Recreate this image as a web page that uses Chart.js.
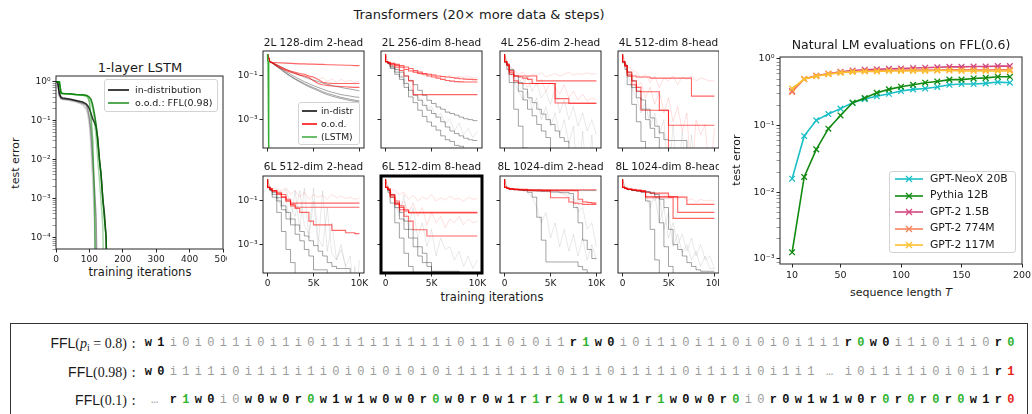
<!DOCTYPE html>
<html>
<head>
<meta charset="utf-8">
<title>FFL flip-flop figure</title>
<script src="https://cdn.jsdelivr.net/npm/chart.js@4.4.1/dist/chart.umd.min.js"></script>
<style>
  html, body { margin: 0; padding: 0; background: #fff; }
  body { width: 1032px; height: 414px; position: relative; overflow: hidden; font-family: "DejaVu Sans", sans-serif; color: #1a1a1a; }
  canvas { position: absolute; }
  .lbl { position: absolute; transform: translate(-50%, -50%); white-space: nowrap; line-height: 1; }
  .vlbl { position: absolute; transform: translate(-50%, -50%) rotate(-90deg); white-space: nowrap; line-height: 1; }
  #leftFig { position: absolute; left: 0; top: 0; width: 719px; height: 318px; overflow: hidden; }
  .legend { position: absolute; background: rgba(255,255,255,0.85); border: 1px solid #d3d3d3; border-radius: 3px; box-sizing: border-box; }
  .legend .row { position: absolute; left: 0; right: 0; display: flex; align-items: center; white-space: nowrap; line-height: 1; }
  .legend svg { flex: none; }
  #seqBox { position: absolute; left: 10px; top: 323px; width: 1018px; height: 120px; border: 1px solid #333; box-sizing: border-box; }
  .seqLabel { position: absolute; left: 0; width: 136px; text-align: right; font-size: 14px; line-height: 16px; white-space: nowrap; }
  .sf { font-family: "Liberation Sans", Arial, sans-serif; }
  .rm { font-family: "Liberation Serif", "DejaVu Serif", serif; }
  .rm sub { font-size: 10px; vertical-align: -3px; line-height: 0; }
  .seq { position: absolute; left: 142px; line-height: 16px; white-space: nowrap; font-family: "Liberation Mono", monospace; font-size: 12px; }
  .cell { display: inline-block; width: 12.5px; text-align: center; }
  .cell.dots { width: 25px; }
  .g { color: #9b9b9b; }
  .b { color: #111; font-weight: bold; }
  .ok { color: #2fb32f; font-weight: bold; }
  .bad { color: #e8241c; font-weight: bold; }
</style>
</head>
<body>
<div id="leftFig">
  <div class="lbl" style="left:479px;top:14px;font-size:13px">Transformers (20× more data &amp; steps)</div>
  <div class="lbl" style="left:140px;top:67px;font-size:13px">1-layer LSTM</div>
  <div class="vlbl" style="left:15px;top:163px;font-size:11px">test error</div>
  <div class="lbl" style="left:140px;top:273px;font-size:11.5px">training iterations</div>
  <div class="lbl" style="left:492px;top:298px;font-size:11.5px">training iterations</div>
</div>
<div class="lbl" style="left:901px;top:45px;font-size:12.5px">Natural LM evaluations on FFL(0.6)</div>
<div class="vlbl" style="left:736px;top:160px;font-size:11px">test error</div>
<div class="lbl" style="left:901px;top:292px;font-size:11px">sequence length <i>T</i></div>
<div id="seqBox"></div>

<script>
// ---------- 1-layer LSTM (iterations 0..500) ----------
const LSTM_ITERS = [0, 5, 10, 15, 20, 40, 60, 80, 90, 95, 100, 105, 110, 115, 120, 125, 130, 135, 140, 145, 150, 155];
const LSTM_IN = [
  [1, 1, 0.5, 0.4, 0.38, 0.36, 0.33, 0.3, 0.27, 0.24, 0.2, 0.15, 0.11, 0.09, 0.07, 0.035, 0.01, 0.004, 0.001, 0.0004, 0.0001, 1e-6],
  [1, 1, 0.45, 0.37, 0.36, 0.35, 0.32, 0.28, 0.25, 0.2, 0.12, 0.05, 0.01, 0.002, 0.0003, 1e-6, 1e-6, 1e-6, 1e-6, 1e-6, 1e-6, 1e-6],
  [1, 1, 0.42, 0.36, 0.35, 0.33, 0.3, 0.26, 0.2, 0.15, 0.08, 0.02, 0.003, 0.0003, 1e-6, 1e-6, 1e-6, 1e-6, 1e-6, 1e-6, 1e-6, 1e-6]
];
const LSTM_OOD = [
  [1, 1, 1, 0.5, 0.5, 0.48, 0.46, 0.45, 0.43, 0.4, 0.3, 0.12, 0.03, 0.001, 1e-6, 1e-6, 1e-6, 1e-6, 1e-6, 1e-6, 1e-6, 1e-6],
  [1, 1, 1, 0.5, 0.5, 0.48, 0.47, 0.45, 0.44, 0.42, 0.38, 0.3, 0.2, 0.1, 0.04, 0.01, 0.003, 0.0008, 0.0002, 1e-6, 1e-6, 1e-6],
  [1, 1, 1, 0.52, 0.5, 0.49, 0.47, 0.46, 0.45, 0.43, 0.4, 0.35, 0.25, 0.15, 0.08, 0.03, 0.01, 0.004, 0.001, 0.0003, 0.0001, 1e-6]
];
const LSTM_IN_COLORS = ["rgba(0,0,0,0.8)", "rgba(0,0,0,0.4)", "rgba(0,0,0,0.2)"];
const LSTM_OOD_COLORS = ["rgba(0,140,0,0.55)", "rgba(0,140,0,0.35)", "rgba(0,110,0,0.85)"];

// ---------- Transformer panels (steps 0..10K) ----------
const TF_STEPS = [0, 250, 500, 1000, 1500, 2000, 2500, 3000, 3500, 4000, 4500, 5000, 5500, 6000, 6500, 7000, 7500, 8000, 8500, 9000, 9500, 10000];

const P1_IN = [
  [1, 0.45, 0.42, 0.33, 0.26, 0.2, 0.16, 0.13, 0.11, 0.09, 0.075, 0.065, 0.056, 0.048, 0.042, 0.037, 0.033, 0.03, 0.027, 0.025, 0.023, 0.021],
  [1, 0.45, 0.4, 0.3, 0.22, 0.16, 0.12, 0.09, 0.07, 0.055, 0.045, 0.036, 0.03, 0.025, 0.021, 0.018, 0.016, 0.014, 0.013, 0.012, 0.011, 0.0105],
  [1, 0.45, 0.39, 0.28, 0.2, 0.14, 0.1, 0.075, 0.058, 0.045, 0.036, 0.029, 0.024, 0.019, 0.016, 0.014, 0.012, 0.0105, 0.0095, 0.0085, 0.0078, 0.0072],
  [1, 0.45, 0.39, 0.27, 0.19, 0.13, 0.095, 0.07, 0.053, 0.041, 0.032, 0.026, 0.021, 0.017, 0.014, 0.012, 0.0105, 0.0093, 0.0083, 0.0075, 0.0069, 0.0064]
];
const P1_OOD = [
  [1, 0.45, 0.43, 0.41, 0.4, 0.39, 0.38, 0.37, 0.36, 0.36, 0.35, 0.35, 0.34, 0.34, 0.33, 0.33, 0.32, 0.32, 0.31, 0.31, 0.3, 0.3],
  [1, 0.45, 0.41, 0.32, 0.25, 0.2, 0.17, 0.15, 0.13, 0.12, 0.1, 0.09, 0.07, 0.052, 0.048, 0.046, 0.045, 0.045, 0.045, 0.045, 0.045, 0.045],
  [1, 0.45, 0.4, 0.29, 0.22, 0.18, 0.15, 0.13, 0.11, 0.1, 0.085, 0.06, 0.045, 0.04, 0.037, 0.035, 0.034, 0.033, 0.032, 0.031, 0.03, 0.03]
];
const P1_PINK = [
  [1, 0.45, 0.41, 0.31, 0.24, 0.2, 0.16, 0.14, 0.12, 0.11, 0.095, 0.08, 0.065, 0.085, 0.055, 0.075, 0.05, 0.07, 0.055, 0.065, 0.05, 0.06]
];
const P1_GRAY = [];

const P2_IN = [
  [1, 0.45, 0.38, 0.28, 0.2, 0.15, 0.1, 0.063, 0.04, 0.022, 0.013, 0.0077, 0.0055, 0.0038, 0.003, 0.0022, 0.0019, 0.0016, 0.0013, 0.0011, 0.001, 0.0009],
  [1, 0.45, 0.37, 0.25, 0.15, 0.09, 0.045, 0.022, 0.013, 0.0077, 0.0045, 0.0027, 0.0019, 0.0013, 0.0008, 0.00046, 0.0003, 0.00023, 0.00018, 0.00014, 0.00012, 0.00011],
  [1, 0.45, 0.36, 0.22, 0.12, 0.07, 0.03, 0.011, 0.006, 0.0027, 0.0014, 0.00078, 0.0005, 0.00033, 0.00018, 0.00012, 0.0001, 0.000066, 0.00006, 1e-6, 1e-6, 1e-6]
];
const P2_OOD = [
  [1, 0.45, 0.42, 0.38, 0.34, 0.3, 0.26, 0.22, 0.18, 0.15, 0.13, 0.12, 0.11, 0.1, 0.095, 0.09, 0.085, 0.08, 0.075, 0.072, 0.07, 0.068],
  [1, 0.45, 0.41, 0.35, 0.3, 0.25, 0.2, 0.17, 0.15, 0.13, 0.12, 0.1, 0.09, 0.08, 0.07, 0.062, 0.058, 0.055, 0.054, 0.053, 0.053, 0.053],
  [1, 0.45, 0.4, 0.32, 0.25, 0.18, 0.1, 0.06, 0.014, 0.014, 0.014, 0.014, 0.014, 0.014, 0.014, 0.014, 0.014, 0.014, 0.014, 0.014, 0.014, 0.014]
];
const P2_PINK = [
  [1, 0.45, 0.42, 0.36, 0.3, 0.25, 0.2, 0.16, 0.13, 0.11, 0.1, 0.12, 0.085, 0.1, 0.08, 0.11, 0.075, 0.095, 0.085, 0.1, 0.08, 0.09]
];
const P2_GRAY = [
  [1, 0.45, 0.37, 0.24, 0.14, 0.08, 0.04, 0.02, 0.01, 0.008, 0.003, 0.004, 0.0012, 0.002, 0.0006, 0.0011, 0.0003, 0.0007, 0.0002, 0.0004, 0.00015, 0.0003]
];

const P3_IN = [
  [1, 0.4, 0.2, 0.05, 0.003, 0.0005, 0.00005, 1e-6, 1e-6, 1e-6, 1e-6, 1e-6, 1e-6, 1e-6, 1e-6, 1e-6, 1e-6, 1e-6, 1e-6, 1e-6, 1e-6, 1e-6],
  [1, 0.45, 0.3, 0.12, 0.05, 0.02, 0.008, 0.003, 0.0015, 0.0006, 0.0003, 0.00015, 1e-6, 1e-6, 1e-6, 1e-6, 1e-6, 1e-6, 1e-6, 1e-6, 1e-6, 1e-6],
  [1, 0.45, 0.32, 0.2, 0.1, 0.05, 0.025, 0.01, 0.006, 0.003, 0.0018, 0.001, 0.0006, 0.0003, 0.00015, 0.0001, 1e-6, 1e-6, 1e-6, 1e-6, 1e-6, 1e-6]
];
const P3_OOD = [
  [1, 0.45, 0.35, 0.18, 0.1, 0.1, 0.1, 0.1, 0.1, 0.06, 0.06, 0.06, 0.06, 0.06, 0.06, 0.06, 0.06, 0.06, 0.06, 0.06, 0.06, 0.06],
  [1, 0.45, 0.33, 0.15, 0.1, 0.09, 0.08, 0.07, 0.045, 0.045, 0.045, 0.045, 0.045, 0.0092, 0.0092, 0.0092, 0.0055, 0.0055, 0.0055, 0.0055, 0.0055, 0.0055],
  [1, 0.45, 0.3, 0.12, 0.06, 0.045, 0.045, 0.045, 0.045, 0.045, 0.045, 0.045, 0.045, 0.0058, 0.0058, 0.0058, 0.0058, 0.0058, 0.0058, 0.0058, 0.0058, 0.0058]
];
const P3_PINK = [
  [1, 0.45, 0.3, 0.2, 0.12, 0.15, 0.08, 0.12, 0.1, 0.14, 0.09, 0.11, 0.13, 0.1, 0.12, 0.15, 0.11, 0.13, 0.12, 0.14, 0.12, 0.13],
  [1, 0.4, 0.25, 0.1, 0.05, 0.08, 0.03, 0.06, 0.04, 0.07, 0.02, 0.05, 0.03, 0.015, 0.04, 0.01, 0.02, 0.008, 0.015, 0.007, 0.01, 0.008]
];
const P3_GRAY = [
  [1, 0.4, 0.2, 0.06, 0.02, 0.008, 0.02, 0.003, 0.01, 0.001, 0.004, 0.0005, 0.002, 0.0002, 0.001, 0.00008, 0.0005, 1e-6, 0.0003, 1e-6, 0.0002, 1e-6],
  [1, 0.45, 0.3, 0.15, 0.08, 0.04, 0.1, 0.02, 0.05, 0.01, 0.02, 0.005, 0.03, 0.002, 0.008, 0.001, 0.004, 0.0005, 0.002, 0.0003, 0.001, 0.0002]
];

const P4_IN = [
  [1, 0.4, 0.2, 0.04, 0.005, 0.0008, 0.0001, 1e-6, 1e-6, 1e-6, 1e-6, 1e-6, 1e-6, 1e-6, 1e-6, 1e-6, 1e-6, 1e-6, 1e-6, 1e-6, 1e-6, 1e-6],
  [1, 0.45, 0.3, 0.1, 0.03, 0.01, 0.003, 0.001, 0.0004, 0.00015, 1e-6, 1e-6, 1e-6, 1e-6, 1e-6, 1e-6, 1e-6, 1e-6, 1e-6, 1e-6, 1e-6, 1e-6],
  [1, 0.45, 0.32, 0.15, 0.06, 0.02, 0.008, 0.003, 0.0012, 0.0005, 0.00025, 0.00012, 0.00011, 0.00011, 0.00011, 0.00011, 1e-6, 1e-6, 1e-6, 1e-6, 1e-6, 1e-6]
];
const P4_OOD = [
  [1, 0.45, 0.3, 0.15, 0.1, 0.09, 0.09, 0.09, 0.08, 0.08, 0.08, 0.08, 0.08, 0.08, 0.08, 0.08, 0.08, 0.012, 0.012, 0.012, 0.012, 0.012],
  [1, 0.45, 0.3, 0.12, 0.06, 0.03, 0.019, 0.019, 0.019, 0.019, 0.0027, 0.0027, 0.00055, 0.00055, 0.00055, 0.00055, 0.00055, 0.00055, 0.00055, 0.00055, 0.00055, 0.00055],
  [1, 0.45, 0.28, 0.1, 0.04, 0.02, 0.0027, 0.0027, 0.0027, 0.0027, 0.0027, 0.0027, 1e-6, 1e-6, 1e-6, 1e-6, 1e-6, 1e-6, 1e-6, 1e-6, 1e-6, 1e-6]
];
const P4_PINK = [
  [1, 0.45, 0.3, 0.2, 0.15, 0.08, 0.12, 0.05, 0.1, 0.03, 0.08, 0.06, 0.1, 0.04, 0.09, 0.07, 0.1, 0.06, 0.08, 0.07, 0.06, 0.06],
  [1, 0.4, 0.2, 0.08, 0.03, 0.05, 0.01, 0.03, 0.005, 0.02, 0.002, 0.01, 0.0008, 0.004, 0.0003, 0.002, 1e-6, 0.001, 0.0002, 0.0006, 1e-6, 0.0004]
];
const P4_GRAY = [
  [1, 0.4, 0.15, 0.03, 0.01, 0.002, 0.006, 0.0005, 0.002, 0.0002, 0.001, 1e-6, 0.0006, 1e-6, 0.0003, 1e-6, 0.0002, 1e-6, 1e-6, 1e-6, 1e-6, 1e-6]
];

const P5_IN = [
  [1, 0.4, 0.3, 0.15, 0.03, 0.004, 0.0006, 0.00015, 1e-6, 1e-6, 1e-6, 1e-6, 1e-6, 1e-6, 1e-6, 1e-6, 1e-6, 1e-6, 1e-6, 1e-6, 1e-6, 1e-6],
  [1, 0.42, 0.32, 0.2, 0.1, 0.04, 0.015, 0.008, 0.003, 0.0015, 0.0006, 0.0003, 0.00007, 0.00007, 0.00007, 1e-6, 1e-6, 1e-6, 1e-6, 1e-6, 1e-6, 1e-6],
  [1, 0.42, 0.33, 0.25, 0.14, 0.06, 0.03, 0.015, 0.008, 0.004, 0.0025, 0.0015, 0.0009, 0.0005, 0.0003, 0.00015, 0.0001, 0.00008, 0.00008, 0.00008, 1e-6, 1e-6]
];
const P5_OOD = [
  [1, 0.42, 0.36, 0.3, 0.25, 0.2, 0.12, 0.08, 0.08, 0.08, 0.08, 0.08, 0.08, 0.08, 0.08, 0.08, 0.08, 0.08, 0.08, 0.08, 0.08, 0.08],
  [1, 0.42, 0.36, 0.3, 0.22, 0.15, 0.1, 0.07, 0.052, 0.052, 0.052, 0.052, 0.052, 0.052, 0.052, 0.052, 0.052, 0.052, 0.052, 0.052, 0.052, 0.052],
  [1, 0.42, 0.35, 0.28, 0.2, 0.15, 0.1, 0.06, 0.045, 0.03, 0.03, 0.012, 0.008, 0.008, 0.008, 0.008, 0.0045, 0.0045, 0.0045, 0.0035, 0.0035, 0.0032]
];
const P5_PINK = [
  [1, 0.42, 0.38, 0.35, 0.3, 0.4, 0.2, 0.3, 0.15, 0.25, 0.12, 0.2, 0.15, 0.18, 0.12, 0.2, 0.14, 0.17, 0.13, 0.15, 0.12, 0.14]
];
const P5_GRAY = [
  [1, 0.4, 0.3, 0.2, 0.05, 0.1, 0.01, 0.3, 0.005, 0.4, 0.002, 0.1, 0.0008, 0.3, 0.0005, 0.01, 0.0002, 0.001, 0.0001, 0.0003, 1e-6, 0.0002],
  [1, 0.42, 0.32, 0.25, 0.2, 0.35, 0.06, 0.02, 0.3, 0.008, 0.003, 0.4, 0.002, 0.0008, 0.05, 0.0004, 0.0002, 0.0006, 0.0001, 1e-6, 0.0001, 1e-6]
];

const P6_IN = [
  [1, 0.4, 0.25, 0.08, 0.01, 0.002, 0.0004, 0.0001, 1e-6, 1e-6, 1e-6, 1e-6, 1e-6, 1e-6, 1e-6, 1e-6, 1e-6, 1e-6, 1e-6, 1e-6, 1e-6, 1e-6],
  [1, 0.42, 0.3, 0.15, 0.05, 0.015, 0.005, 0.002, 0.0008, 0.0003, 0.00015, 0.0001, 1e-6, 1e-6, 1e-6, 1e-6, 1e-6, 1e-6, 1e-6, 1e-6, 1e-6, 1e-6],
  [1, 0.42, 0.32, 0.2, 0.08, 0.03, 0.012, 0.005, 0.002, 0.0008, 0.0004, 0.00015, 0.00006, 0.00006, 0.00006, 0.00006, 0.00006, 0.00006, 1e-6, 1e-6, 1e-6, 1e-6]
];
const P6_OOD = [
  [1, 0.42, 0.35, 0.2, 0.1, 0.06, 0.04, 0.03, 0.03, 0.03, 0.03, 0.03, 0.03, 0.03, 0.03, 0.03, 0.03, 0.03, 0.03, 0.03, 0.03, 0.03],
  [1, 0.42, 0.34, 0.18, 0.08, 0.05, 0.035, 0.028, 0.028, 0.028, 0.028, 0.028, 0.028, 0.028, 0.028, 0.028, 0.028, 0.028, 0.028, 0.028, 0.028, 0.028],
  [1, 0.42, 0.33, 0.15, 0.07, 0.04, 0.02, 0.012, 0.0048, 0.0048, 0.0048, 0.0025, 0.0025, 0.0025, 0.0025, 0.0025, 0.0025, 0.0025, 0.0025, 0.0025, 0.0025, 0.0025]
];
const P6_PINK = [
  [1, 0.42, 0.38, 0.3, 0.2, 0.25, 0.12, 0.18, 0.1, 0.15, 0.12, 0.2, 0.1, 0.14, 0.11, 0.17, 0.12, 0.13, 0.1, 0.15, 0.12, 0.13],
  [1, 0.4, 0.3, 0.15, 0.06, 0.1, 0.03, 0.08, 0.02, 0.05, 0.008, 0.03, 0.01, 0.02, 0.006, 0.015, 0.01, 0.02, 0.008, 0.015, 0.01, 0.012]
];
const P6_GRAY = [
  [1, 0.4, 0.25, 0.1, 0.02, 0.2, 0.005, 0.05, 0.002, 0.01, 0.0008, 0.005, 0.0003, 0.002, 0.0006, 0.0008, 0.0002, 0.0005, 0.0001, 0.0003, 0.00008, 0.0002]
];

const P7_IN = [
  [1, 0.42, 0.38, 0.35, 0.33, 0.32, 0.3, 0.25, 0.15, 0.018, 0.0016, 0.00016, 0.00016, 0.00016, 0.00016, 0.00016, 0.00016, 0.00016, 0.0001, 0.00007, 1e-6, 1e-6],
  [1, 0.42, 0.38, 0.35, 0.33, 0.32, 0.31, 0.3, 0.29, 0.28, 0.27, 0.27, 0.26, 0.26, 0.25, 0.25, 0.22, 0.05, 0.01, 0.0016, 0.0006, 0.00023],
  [1, 0.42, 0.38, 0.35, 0.34, 0.33, 0.33, 0.32, 0.32, 0.32, 0.31, 0.31, 0.31, 0.31, 0.31, 0.31, 0.31, 0.3, 0.3, 0.3, 0.3, 0.3]
];
const P7_OOD = [
  [1, 0.42, 0.38, 0.36, 0.34, 0.33, 0.32, 0.32, 0.31, 0.31, 0.3, 0.3, 0.3, 0.3, 0.3, 0.3, 0.3, 0.3, 0.12, 0.09, 0.085, 0.08],
  [1, 0.42, 0.38, 0.35, 0.33, 0.32, 0.31, 0.3, 0.3, 0.3, 0.3, 0.3, 0.14, 0.14, 0.14, 0.14, 0.09, 0.08, 0.075, 0.07, 0.07, 0.07],
  [1, 0.42, 0.38, 0.36, 0.35, 0.34, 0.34, 0.33, 0.33, 0.33, 0.33, 0.33, 0.33, 0.33, 0.33, 0.33, 0.33, 0.33, 0.33, 0.33, 0.33, 0.33]
];
const P7_PINK = [
  [1, 0.42, 0.4, 0.38, 0.36, 0.35, 0.34, 0.34, 0.33, 0.33, 0.32, 0.32, 0.3, 0.25, 0.2, 0.15, 0.12, 0.1, 0.09, 0.1, 0.08, 0.09]
];
const P7_GRAY = [
  [1, 0.42, 0.38, 0.35, 0.33, 0.3, 0.25, 0.15, 0.05, 0.01, 0.03, 0.002, 0.01, 0.0008, 0.005, 0.0005, 0.003, 0.0003, 0.002, 0.0002, 0.001, 0.0002],
  [1, 0.42, 0.38, 0.35, 0.33, 0.32, 0.31, 0.3, 0.29, 0.28, 0.27, 0.26, 0.25, 0.24, 0.22, 0.2, 0.15, 0.03, 0.05, 0.005, 0.01, 0.0008]
];

const P8_IN = [
  [1, 0.42, 0.38, 0.33, 0.3, 0.28, 0.25, 0.1, 0.005, 0.0002, 1e-6, 1e-6, 1e-6, 1e-6, 1e-6, 1e-6, 1e-6, 1e-6, 1e-6, 1e-6, 1e-6, 1e-6],
  [1, 0.42, 0.38, 0.34, 0.31, 0.29, 0.27, 0.25, 0.22, 0.15, 0.01, 0.0008, 0.0001, 1e-6, 1e-6, 1e-6, 1e-6, 1e-6, 1e-6, 1e-6, 1e-6, 1e-6],
  [1, 0.42, 0.38, 0.34, 0.31, 0.3, 0.28, 0.27, 0.25, 0.2, 0.12, 0.05, 0.005, 0.001, 0.0006, 0.0003, 0.00015, 0.0001, 0.00007, 0.00006, 0.00006, 0.00006]
];
const P8_OOD = [
  [1, 0.42, 0.38, 0.35, 0.33, 0.32, 0.3, 0.25, 0.23, 0.23, 0.23, 0.23, 0.15, 0.15, 0.15, 0.15, 0.07, 0.07, 0.07, 0.07, 0.07, 0.07],
  [1, 0.42, 0.38, 0.34, 0.32, 0.3, 0.28, 0.16, 0.16, 0.16, 0.16, 0.16, 0.16, 0.16, 0.03, 0.03, 0.03, 0.03, 0.03, 0.03, 0.03, 0.03],
  [1, 0.42, 0.38, 0.34, 0.32, 0.3, 0.27, 0.14, 0.14, 0.14, 0.14, 0.14, 0.14, 0.016, 0.016, 0.016, 0.016, 0.016, 0.016, 0.016, 0.016, 0.016]
];
const P8_PINK = [
  [1, 0.42, 0.4, 0.38, 0.36, 0.33, 0.3, 0.25, 0.2, 0.22, 0.18, 0.2, 0.15, 0.12, 0.18, 0.1, 0.13, 0.09, 0.12, 0.1, 0.11, 0.1]
];
const P8_GRAY = [
  [1, 0.42, 0.38, 0.33, 0.3, 0.28, 0.2, 0.05, 0.2, 0.01, 0.05, 0.002, 0.01, 0.001, 0.003, 0.0005, 0.002, 0.0003, 0.001, 0.0002, 0.0003, 0.00008],
  [1, 0.42, 0.38, 0.34, 0.31, 0.29, 0.27, 0.25, 0.1, 0.2, 0.005, 0.03, 0.0008, 0.003, 0.0004, 0.001, 0.0002, 0.0005, 0.0001, 0.0003, 0.00008, 0.00008]
];

const PANEL_TITLES = [
  "2L 128-dim 2-head", "2L 256-dim 8-head", "4L 256-dim 2-head", "4L 512-dim 8-head",
  "6L 512-dim 2-head", "6L 512-dim 8-head", "8L 1024-dim 2-head", "8L 1024-dim 8-head"
];
const PANEL_IN = [P1_IN, P2_IN, P3_IN, P4_IN, P5_IN, P6_IN, P7_IN, P8_IN];
const PANEL_OOD = [P1_OOD, P2_OOD, P3_OOD, P4_OOD, P5_OOD, P6_OOD, P7_OOD, P8_OOD];
const PANEL_PINK = [P1_PINK, P2_PINK, P3_PINK, P4_PINK, P5_PINK, P6_PINK, P7_PINK, P8_PINK];
const PANEL_GRAY = [P1_GRAY, P2_GRAY, P3_GRAY, P4_GRAY, P5_GRAY, P6_GRAY, P7_GRAY, P8_GRAY];

// ---------- Natural LM evaluations ----------
const SEQ_LEN = [10, 20, 30, 40, 50, 60, 70, 80, 90, 100, 110, 120, 130, 140, 150, 160, 170, 180, 190];
const LM_NAMES = ["GPT-NeoX 20B", "Pythia 12B", "GPT-2 1.5B", "GPT-2 774M", "GPT-2 117M"];
const LM_COLORS = ["#1bbfc6", "#118a11", "#d4477f", "#f5845a", "#fdc12e"];
const NEOX_20B = [0.016, 0.07, 0.12, 0.149, 0.18, 0.22, 0.25, 0.275, 0.3, 0.33, 0.35, 0.36, 0.38, 0.41, 0.42, 0.42, 0.43, 0.45, 0.44];
const PYTHIA_12B = [0.00126, 0.017, 0.044, 0.09, 0.142, 0.22, 0.26, 0.31, 0.35, 0.384, 0.41, 0.44, 0.46, 0.49, 0.49, 0.51, 0.52, 0.54, 0.54];
const GPT2_XL = [0.33, 0.5, 0.56, 0.6, 0.64, 0.67, 0.69, 0.7, 0.71, 0.72, 0.73, 0.74, 0.75, 0.76, 0.76, 0.77, 0.77, 0.78, 0.78];
const GPT2_L = [0.32, 0.5, 0.56, 0.6, 0.63, 0.65, 0.66, 0.67, 0.67, 0.68, 0.68, 0.68, 0.68, 0.69, 0.69, 0.69, 0.68, 0.69, 0.69];
const GPT2_S = [0.36, 0.5, 0.55, 0.59, 0.62, 0.64, 0.65, 0.65, 0.66, 0.66, 0.66, 0.66, 0.67, 0.67, 0.66, 0.66, 0.66, 0.66, 0.66];
const LM_SERIES = [NEOX_20B, PYTHIA_12B, GPT2_XL, GPT2_L, GPT2_S];

// ---------- FFL example sequences ----------
const SEQ_LABELS = [
  '<span class="sf">FFL</span><span class="rm">(<i>p</i><sub>i</sub> = 0.8)</span> :',
  '<span class="sf">FFL</span><span class="rm">(0.98)</span> :',
  '<span class="sf">FFL</span><span class="rm">(0.1)</span> :'
];
const SEQ_TOKENS = [
  "w1 i0 i0 i1 i0 i1 i0 i1 i1 i1 i1 i1 i0 i1 i0 i0 i1 r1g w0 i0 i1 i0 i1 i0 i0 i0 i1 i1 r0g w0 i1 i0 i1 i0 r0g",
  "w0 i1 i1 i0 i1 i1 i1 i0 i0 i0 i0 i0 i1 i1 i1 i1 i0 i1 i0 i1 i1 i0 i1 i1 i0 i1 i1 … i0 i1 i1 i0 i0 i1 r1x",
  "… r1g w0 i0 w0 w0 r0g w1 w1 w0 w0 r0g w0 r0 w1 r1g r1g w0 w1 w1 r1g w0 w0 r0g i0 r0 w1 w1 w0 r0g r0g r0g r0g w1 r0x"
];
const SEQ_ROW_Y = [343, 372, 400];

// ---------- layout ----------
const YMIN = 5e-5, YMAX = 1.4;
const COL_LEFT = [263, 381, 500, 618];
const ROW_TOP = [51, 176];
const PANEL_W = 101, PANEL_H = 97;

Chart.defaults.font.family = "'DejaVu Sans', sans-serif";
Chart.defaults.color = "#1a1a1a";
Chart.defaults.animation = false;
Chart.defaults.responsive = false;
Chart.defaults.devicePixelRatio = 1;
Chart.defaults.plugins.legend.display = false;
Chart.defaults.plugins.tooltip.enabled = false;

// matplotlib-like box around the axes
Chart.register({
  id: "frame",
  afterDatasetsDraw(chart, args, opts) {
    const a = chart.chartArea, ctx = chart.ctx;
    ctx.save();
    ctx.strokeStyle = opts.color || "#262626";
    ctx.lineWidth = opts.width || 1;
    ctx.strokeRect(a.left, a.top, a.right - a.left, a.bottom - a.top);
    ctx.restore();
  }
});

const SUP = { "-": "⁻", "0": "⁰", "1": "¹", "2": "²", "3": "³", "4": "⁴" };
function pow10(v) {
  return "10" + String(Math.round(Math.log10(v))).split("").map(c => SUP[c]).join("");
}
function minorTicks(min, max) {
  const out = [];
  for (let e = Math.floor(Math.log10(min)); e <= Math.ceil(Math.log10(max)); e++) {
    for (let m = 2; m <= 9; m++) {
      const v = m * Math.pow(10, e);
      if (v >= min && v <= max) out.push(v);
    }
  }
  return out;
}
function kFmt(v) { return v === 0 ? "0" : (v / 1000) + "K"; }

function makeCanvas(parent, left, top, w, h) {
  const c = document.createElement("canvas");
  c.width = w; c.height = h;
  c.style.left = left + "px"; c.style.top = top + "px";
  c.style.width = w + "px"; c.style.height = h + "px";
  parent.appendChild(c);
  return c;
}

function pts(xs, ys) { return ys.map((y, i) => ({ x: xs[i], y })); }
function lineDs(xs, ys, color, width, stepped, extra) {
  return Object.assign({
    data: pts(xs, ys), borderColor: color, backgroundColor: color, borderWidth: width,
    pointRadius: 0, stepped: stepped ? "after" : false, tension: 0, fill: false
  }, extra || {});
}

function linX(min, max, ticks, fmt, height, size) {
  return {
    type: "linear", min, max,
    afterBuildTicks: s => { s.ticks = ticks.map(v => ({ value: v })); },
    ticks: { autoSkip: false, maxRotation: 0, padding: 2, font: { size }, callback: v => fmt(v) },
    grid: { drawOnChartArea: false, drawTicks: true, tickLength: 3.5, color: "#262626" },
    border: { display: false },
    afterFit: s => { s.height = height; s.paddingLeft = 0; s.paddingRight = 0; }
  };
}
function logY(min, max, major, minor, showLabels, width, size) {
  return {
    type: "logarithmic", min, max,
    afterBuildTicks: s => {
      s.ticks = major.map(v => ({ value: v, major: true })).concat(minor.map(v => ({ value: v, major: false })));
    },
    ticks: {
      autoSkip: false, padding: 2, font: { size },
      callback: (v, i, t) => (showLabels && t[i] && t[i].major) ? pow10(v) : ""
    },
    grid: {
      drawOnChartArea: false, drawTicks: true, tickLength: 3.5,
      color: c => (c.tick && c.tick.major) ? "#262626" : "#555",
      tickWidth: c => (c.tick && c.tick.major) ? 1 : 0.6
    },
    border: { display: false },
    afterFit: s => { s.width = width; s.paddingTop = 0; s.paddingBottom = 0; }
  };
}

function addLegend(parent, box, rows) {
  const d = document.createElement("div");
  d.className = "legend";
  d.style.left = box.x + "px"; d.style.top = box.y + "px";
  d.style.width = box.w + "px"; d.style.height = box.h + "px";
  rows.forEach((r, i) => {
    const row = document.createElement("div");
    row.className = "row";
    row.style.top = (box.first + i * box.step - box.y - 1 - 6) + "px";
    row.style.height = "12px";
    row.style.paddingLeft = box.pad + "px";
    row.style.fontSize = box.font + "px";
    const L = box.line;
    let svg = '<svg width="' + L + '" height="12"><line x1="0" y1="6" x2="' + L + '" y2="6" stroke="' + r.color + '" stroke-width="' + (box.lw || 1.5) + '"/>';
    if (box.marker) {
      const m = L / 2;
      svg += '<path d="M' + (m - 3) + ' 3 L' + (m + 3) + ' 9 M' + (m - 3) + ' 9 L' + (m + 3) + ' 3" stroke="' + r.color + '" stroke-width="1.3"/>';
    }
    svg += "</svg>";
    row.innerHTML = svg + '<span style="margin-left:' + box.gap + 'px">' + r.label + "</span>";
    d.appendChild(row);
  });
  parent.appendChild(d);
}

const leftFig = document.getElementById("leftFig");

// ---------- LSTM panel ----------
(function () {
  const cv = makeCanvas(leftFig, 0, 60, 227, 215);
  const ds = [];
  LSTM_OOD.forEach((ys, k) => ds.push(lineDs(LSTM_ITERS, ys, LSTM_OOD_COLORS[k], 1.5, false)));
  LSTM_IN.forEach((ys, k) => ds.push(lineDs(LSTM_ITERS, ys, LSTM_IN_COLORS[k], 1.5, false)));
  new Chart(cv, {
    type: "line",
    data: { datasets: ds },
    options: {
      layout: { padding: { left: 0, top: 16, right: 4, bottom: 0 } },
      scales: {
        x: linX(0, 500, [0, 100, 200, 300, 400, 500], v => String(v), 26, 9),
        y: logY(YMIN, YMAX, [1, 1e-1, 1e-2, 1e-3, 1e-4], minorTicks(YMIN, YMAX), true, 56, 9)
      },
      plugins: { frame: { width: 1 } }
    }
  });
  addLegend(leftFig, { x: 104, y: 79, w: 114, h: 33, first: 89.5, step: 13, pad: 3, line: 21, gap: 6, font: 9.5, lw: 1.5 },
    [{ label: "in-distribution", color: "#000" }, { label: "o.o.d.: FFL(0.98)", color: "#1c8c1c" }]);
})();

// ---------- Transformer panels ----------
PANEL_TITLES.forEach((title, p) => {
  const col = p % 4, row = Math.floor(p / 4);
  const left = COL_LEFT[col], top = ROW_TOP[row];
  const xh = row === 1 ? 18 : 6;
  const cv = makeCanvas(leftFig, left - 30, top - 4, 30 + PANEL_W + 10, 4 + PANEL_H + xh);
  const smooth = p === 0;
  const ds = [];
  if (p === 0) ds.push(lineDs(LSTM_ITERS, LSTM_OOD[2], "rgba(40,170,40,0.95)", 1.5, false));
  PANEL_OOD[p].forEach(ys => ds.push(lineDs(TF_STEPS, ys, "rgba(255,0,0,0.6)", 1.1, !smooth)));
  PANEL_IN[p].forEach(ys => ds.push(lineDs(TF_STEPS, ys, "rgba(0,0,0,0.36)", 1, !smooth)));
  PANEL_PINK[p].forEach(ys => ds.push(lineDs(TF_STEPS, ys, "rgba(255,0,0,0.13)", 1, false)));
  PANEL_GRAY[p].forEach(ys => ds.push(lineDs(TF_STEPS, ys, "rgba(0,0,0,0.09)", 1, false)));
  new Chart(cv, {
    type: "line",
    data: { datasets: ds },
    options: {
      layout: { padding: { left: 0, top: 4, right: 10, bottom: 0 } },
      scales: {
        x: linX(-500, 10500, [0, 5000, 10000], row === 1 ? kFmt : () => "", xh, 9),
        y: logY(YMIN, YMAX, [1e-1, 1e-3], [], col === 0, 30, 9)
      },
      plugins: { frame: p === 5 ? { width: 3, color: "#000" } : { width: 1 } }
    }
  });
  const t = document.createElement("div");
  t.className = "lbl";
  t.style.left = (left + PANEL_W / 2) + "px";
  t.style.top = (row === 0 ? 42 : 166) + "px";
  t.style.fontSize = "10.5px";
  t.textContent = title;
  leftFig.appendChild(t);
});
addLegend(leftFig, { x: 298, y: 102, w: 62, h: 43, first: 110.5, step: 13, pad: 3, line: 15, gap: 4, font: 9.2, lw: 1.5 },
  [{ label: "in-distr", color: "#000" }, { label: "o.o.d.", color: "#ff0000" }, { label: "(LSTM)", color: "#3aa83a" }]);

// ---------- Natural LM evaluations ----------
(function () {
  const cv = makeCanvas(document.body, 742, 50, 290, 235);
  const ds = LM_SERIES.map((ys, k) => lineDs(SEQ_LEN, ys, LM_COLORS[k], 1.6, false, {
    label: LM_NAMES[k], pointStyle: "crossRot", pointRadius: 4, pointBorderWidth: 1.3,
    pointBorderColor: LM_COLORS[k], order: LM_SERIES.length - k
  }));
  new Chart(cv, {
    type: "line",
    data: { datasets: ds },
    options: {
      layout: { padding: { left: 0, top: 7, right: 10, bottom: 0 } },
      scales: {
        x: linX(0, 200, [10, 50, 100, 150, 200], v => String(v), 21, 9.5),
        y: logY(8.4e-4, 1.07, [1, 1e-1, 1e-2, 1e-3], minorTicks(8.4e-4, 1.07), true, 38, 9.5)
      },
      plugins: { frame: { width: 1 } }
    }
  });
  addLegend(document.body, { x: 889, y: 171, w: 127, h: 82, first: 179, step: 16.5, pad: 5, line: 28, gap: 7, font: 10.8, lw: 1.6, marker: true },
    LM_NAMES.map((n, k) => ({ label: n, color: LM_COLORS[k] })));
})();

// ---------- FFL example sequences ----------
function renderTokens(str) {
  return str.split(" ").map(tok => {
    if (tok === "…") return '<span class="cell dots g">…</span>';
    const a = tok[0], d = tok[1], mark = tok[2];
    const c1 = a === "i" ? "g" : "b";
    let c2 = a === "i" ? "g" : "b";
    if (mark === "g") c2 = "ok";
    if (mark === "x") c2 = "bad";
    return '<span class="cell ' + c1 + '">' + a + '</span><span class="cell ' + c2 + '">' + d + "</span>";
  }).join("");
}
SEQ_LABELS.forEach((lab, i) => {
  const l = document.createElement("div");
  l.className = "seqLabel";
  l.style.top = (SEQ_ROW_Y[i] - 8) + "px";
  l.innerHTML = lab;
  document.body.appendChild(l);
  const s = document.createElement("div");
  s.className = "seq";
  s.style.top = (SEQ_ROW_Y[i] - 8) + "px";
  s.innerHTML = renderTokens(SEQ_TOKENS[i]);
  document.body.appendChild(s);
});
</script>
</body>
</html>
